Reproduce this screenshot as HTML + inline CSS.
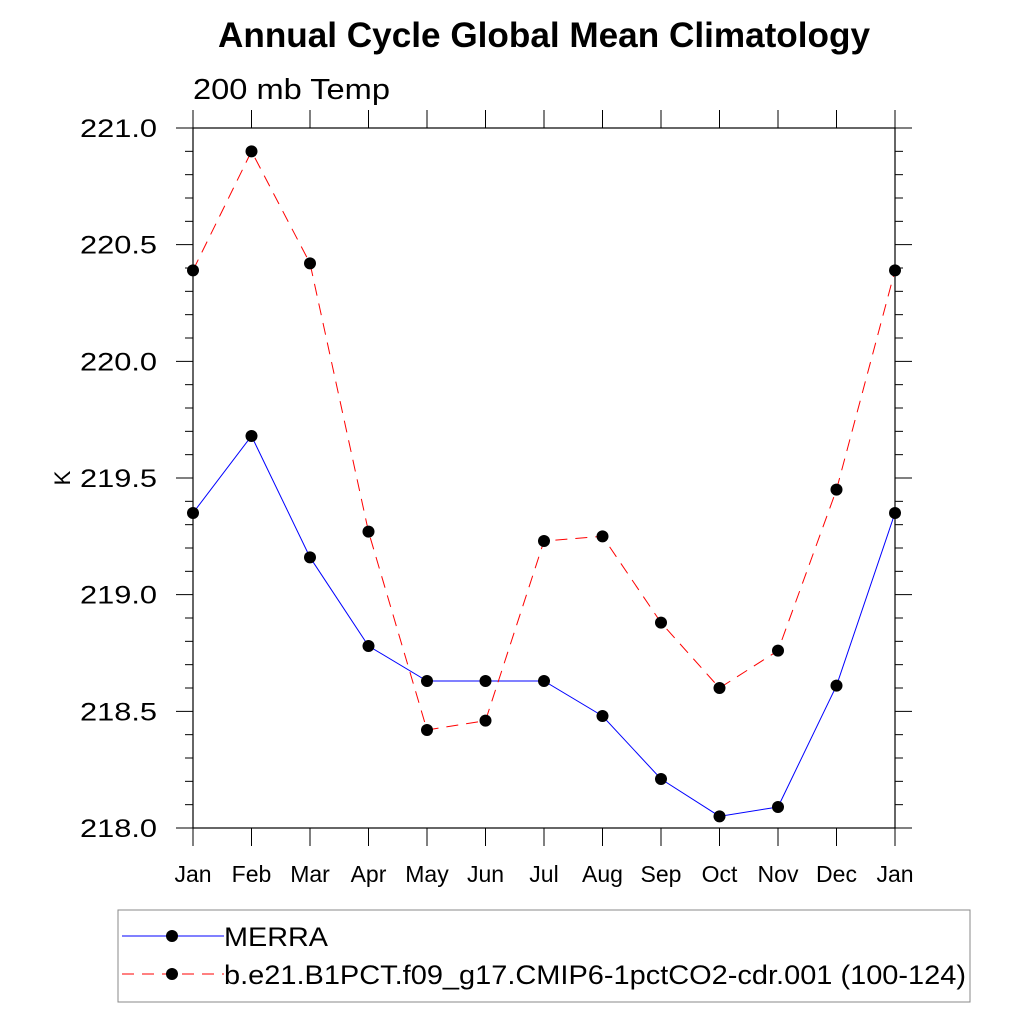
<!DOCTYPE html>
<html><head><meta charset="utf-8"><style>
body{margin:0;background:#fff}
svg{display:block;font-family:"Liberation Sans",sans-serif}
</style></head><body>
<svg id="c" width="1024" height="1024" viewBox="0 0 1024 1024">
<text x="218" y="47" font-size="35" font-weight="bold" textLength="652" lengthAdjust="spacingAndGlyphs">Annual Cycle Global Mean Climatology</text>
<text x="193" y="99" font-size="29" textLength="197" lengthAdjust="spacingAndGlyphs">200 mb Temp</text>
<text x="70" y="478" font-size="22" text-anchor="middle" transform="rotate(-90 70 478)">K</text>
<g id="axes"></g>
<g id="series"></g>
<rect x="118" y="910" width="852" height="92" fill="none" stroke="#888" stroke-width="1"/>
<g>
<line x1="122" y1="936" x2="224" y2="936" stroke="#00f" stroke-width="1"/>
<circle cx="172" cy="936" r="6" fill="#000"/>
<text x="224" y="946" font-size="27" textLength="104" lengthAdjust="spacingAndGlyphs">MERRA</text></g>
<g>
<line x1="122" y1="974" x2="224" y2="974" stroke="#f00" stroke-width="1" stroke-dasharray="12,8"/>
<circle cx="172" cy="974" r="6" fill="#000"/>
<text x="224" y="984" font-size="27" textLength="742" lengthAdjust="spacingAndGlyphs">b.e21.B1PCT.f09_g17.CMIP6-1pctCO2-cdr.001 (100-124)</text></g>
</svg>
<script>
const months=["Jan","Feb","Mar","Apr","May","Jun","Jul","Aug","Sep","Oct","Nov","Dec","Jan"];
const merra=[219.35,219.68,219.16,218.78,218.63,218.63,218.63,218.48,218.21,218.05,218.09,218.61,219.35];
const model=[220.39,220.90,220.42,219.27,218.42,218.46,219.23,219.25,218.88,218.60,218.76,219.45,220.39];
const yTicks=["218.0","218.5","219.0","219.5","220.0","220.5","221.0"];
const NS="http://www.w3.org/2000/svg";
const L=193,R=895,T=128,B=828,ymin=218,ymax=221;
const X=i=>L+(R-L)*i/(months.length-1);
const Y=v=>B-(v-ymin)/(ymax-ymin)*(B-T);
function mk(tag,attrs,parent){const e=document.createElementNS(NS,tag);for(const k in attrs)e.setAttribute(k,attrs[k]);parent.appendChild(e);return e;}
const ax=document.getElementById('axes');
const frame=mk('rect',{x:L,y:T,width:R-L,height:B-T,fill:'none',stroke:'#000','stroke-width':1.2},ax);


for(let k=0;k<=30;k++){const v=ymin+k*0.1,y=Y(v),len=k%5===0?17:8;
 mk('line',{x1:L-len,y1:y,x2:L,y2:y,stroke:'#000','stroke-width':1},ax);
 mk('line',{x1:R,y1:y,x2:R+len,y2:y,stroke:'#000','stroke-width':1},ax);}
yTicks.forEach(t=>{const tx=mk('text',{x:157,y:Y(+t)+9,'font-size':25,'text-anchor':'end',textLength:77,lengthAdjust:'spacingAndGlyphs'},ax);tx.textContent=t;
 
 });
months.forEach((m,i)=>{const x=X(i);
 mk('line',{x1:x,y1:B,x2:x,y2:B+18,stroke:'#000','stroke-width':1},ax);
 mk('line',{x1:x,y1:T-18,x2:x,y2:T,stroke:'#000','stroke-width':1},ax);
 const tx=mk('text',{x:x,y:882,'font-size':23,'text-anchor':'middle'},ax);tx.textContent=m;
 
 });
const sg=document.getElementById('series');
function series(vals,color,dash,name){
 const pl=mk('polyline',{points:vals.map((v,i)=>X(i)+','+Y(v)).join(' '),fill:'none',stroke:color,'stroke-width':1,'stroke-dasharray':dash},sg);
 
 
 vals.forEach((v,i)=>{const c=mk('circle',{cx:X(i),cy:Y(v),r:6,fill:'#000'},sg);
  
  });
}
series(merra,'#00f','none','merra');
series(model,'#f00','12,8','model');
</script>
</body></html>
